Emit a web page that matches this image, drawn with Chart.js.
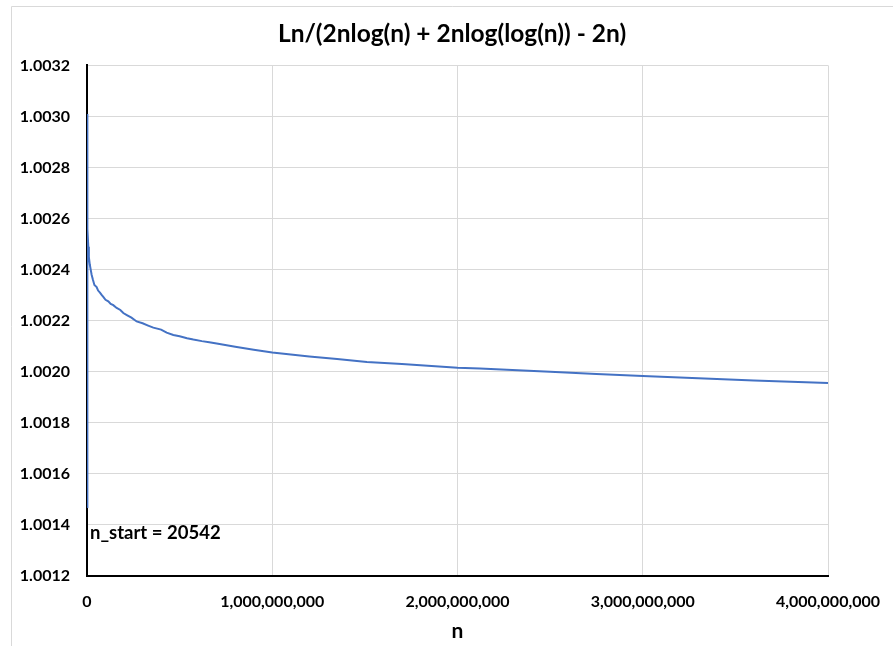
<!DOCTYPE html>
<html>
<head>
<meta charset="utf-8">
<script src="https://cdn.jsdelivr.net/npm/chart.js@4.4.1/dist/chart.umd.min.js"></script>
<style>
  html, body { margin: 0; padding: 0; background: #fff; }
  #wrap { width: 893px; height: 646px; position: relative; }
</style>
</head>
<body>
<div id="wrap"><canvas id="ratioChart"></canvas></div>
<script>
// n values (in millions)
const nMillions = [0.020542, 0.15, 0.5, 1, 2, 3.5, 5, 7, 10, 15, 20, 25, 32, 40, 52, 60, 70, 80, 88, 100,
  115, 128, 142, 160, 180, 196, 215, 240, 268, 300, 330, 358, 400, 430, 466, 500, 540, 574, 620, 660,
  700, 800, 900, 1000, 1200, 1350, 1511, 1700, 2000, 2121, 2500, 2750, 3000, 3300, 3600, 4000];
const ratios = [1.00147, 1.00301, 1.00292, 1.00282, 1.00272, 1.00262, 1.00256, 1.00249, 1.00245, 1.00242,
  1.00240, 1.00238, 1.00236, 1.00234, 1.002332, 1.002318, 1.002310, 1.002300, 1.002293, 1.002282,
  1.002276, 1.002266, 1.002261, 1.002250, 1.002242, 1.002230, 1.002222, 1.002212, 1.002197, 1.002190,
  1.002181, 1.002173, 1.002165, 1.002153, 1.002144, 1.002139, 1.002131, 1.002126, 1.002120, 1.002116,
  1.002111, 1.002098, 1.002086, 1.0020755, 1.002060, 1.002050, 1.0020387, 1.002030, 1.0020157, 1.002013,
  1.002000, 1.001991, 1.001983, 1.001975, 1.001966, 1.001956];
const chartTitle = 'Ln/(2nlog(n) + 2nlog(log(n)) - 2n)';
const xTitle = 'n';
const noteText = 'n_start = 20542';

const points = nMillions.map((n, i) => ({ x: n * 1e6, y: ratios[i] }));

Chart.defaults.font.family = 'Lato, "Open Sans", sans-serif';
Chart.defaults.font.weight = 'bold';
Chart.defaults.color = '#000';

// light frame of the chart box and the note in the plot
const framePlugin = {
  id: 'frame',
  beforeDraw(chart) {
    const ctx = chart.ctx;
    ctx.save();
    ctx.strokeStyle = '#d9d9d9';
    ctx.lineWidth = 1;
    ctx.beginPath();
    ctx.moveTo(11.5, 646);
    ctx.lineTo(11.5, 6.5);
    ctx.lineTo(893, 6.5);
    ctx.stroke();
    ctx.restore();
  },
  afterDraw(chart) {
    const ctx = chart.ctx;
    const y = chart.scales.y.getPixelForValue(1.00137);
    ctx.save();
    ctx.font = 'bold 18.5px Lato, sans-serif';
    ctx.fillStyle = '#000';
    ctx.textBaseline = 'middle';
    ctx.fillText(noteText, chart.chartArea.left + 3, y);
    ctx.restore();
  }
};

new Chart(document.getElementById('ratioChart'), {
  type: 'line',
  data: {
    datasets: [{
      data: points,
      borderColor: '#4472C4',
      borderWidth: 2,
      pointRadius: 0,
      tension: 0,
      fill: false
    }]
  },
  options: {
    responsive: true,
    maintainAspectRatio: false,
    animation: false,
    layout: { padding: { left: 11, right: 0, top: 0, bottom: 0 } },
    plugins: {
      legend: { display: false },
      tooltip: { enabled: false },
      title: {
        display: true,
        text: chartTitle,
        font: { size: 24.5, weight: 'bold' },
        color: '#000',
        padding: { top: 19, bottom: 17 }
      }
    },
    scales: {
      x: {
        type: 'linear',
        min: 0,
        max: 4e9,
        afterFit(s) {
          s.height = 70;
          s.paddingLeft = 0;
          s.paddingRight = 65;
        },
        ticks: {
          stepSize: 1e9,
          padding: 16,
          font: { size: 16, weight: 'bold' },
          maxRotation: 0,
          callback: v => v.toLocaleString('en-US')
        },
        grid: { color: '#d9d9d9', drawTicks: false },
        border: { color: '#000', width: 2 },
        title: {
          display: true,
          text: xTitle,
          font: { size: 21, weight: 'bold' },
          padding: { top: 0, bottom: 2 }
        }
      },
      y: {
        min: 1.0012,
        max: 1.0032,
        afterFit(s) {
          s.width = 76;
          s.paddingTop = 0;
          s.paddingBottom = 0;
        },
        ticks: {
          stepSize: 0.0002,
          padding: 17,
          font: { size: 16, weight: 'bold' },
          callback: v => v.toFixed(4)
        },
        grid: { color: '#d9d9d9', drawTicks: false },
        border: { color: '#000', width: 2 }
      }
    }
  },
  plugins: [framePlugin]
});
</script>
</body>
</html>
